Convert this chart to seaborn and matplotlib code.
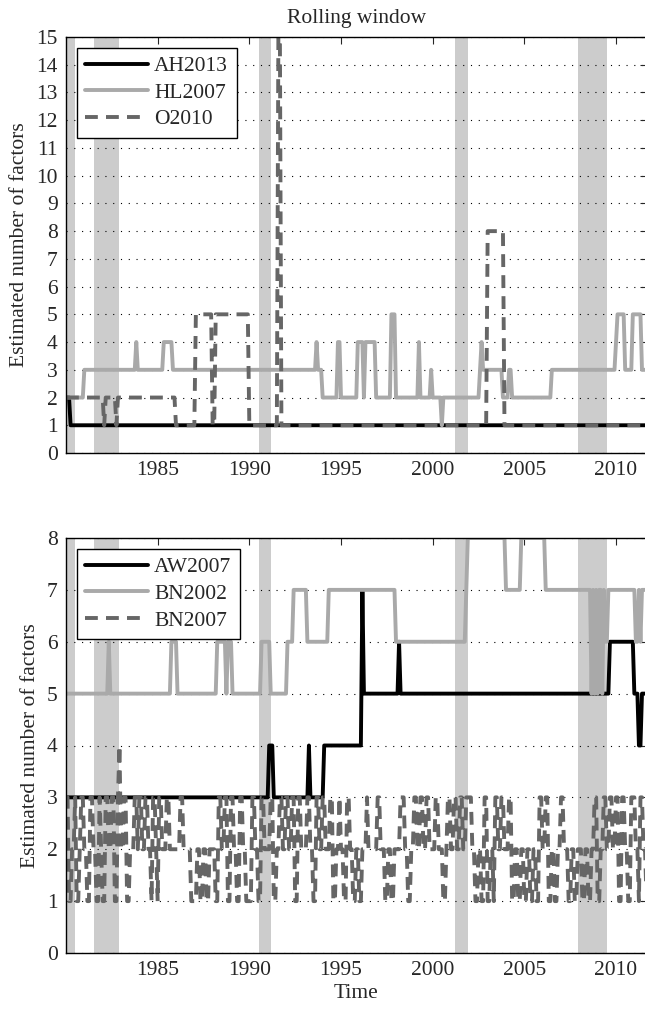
import matplotlib

matplotlib.use("Agg")
import matplotlib.pyplot as plt
import numpy as np
import pandas as pd
import seaborn as sns

START = 1980.0
N_MONTHS = 381  # Jan 1980 .. Sep 2011

# NBER recessions (start, end)
RECESSIONS = [(1980.0, 1980.5), (1981.55, 1982.9), (1990.55, 1991.2),
              (2001.2, 2001.9), (2007.92, 2009.5)]

# runs: (year the value starts, value)
AH2013 = [(1980.0, 2), (1980.25, 1)]
HL2007 = [(1980.0, 2), (1981.0, 3), (1983.83, 4), (1983.92, 3), (1985.33, 4),
          (1985.83, 3), (1993.67, 4), (1993.75, 3), (1994.0, 2), (1994.83, 4),
          (1995.0, 2), (1995.92, 4), (1996.25, 2), (1996.33, 4), (1996.92, 2),
          (1997.75, 5), (1998.0, 2), (1999.25, 4), (1999.33, 2), (1999.92, 3),
          (2000.0, 2), (2000.5, 1), (2000.58, 2), (2002.58, 3), (2002.67, 4),
          (2002.75, 3), (2003.83, 2), (2004.17, 3), (2004.33, 2), (2006.5, 3),
          (2010.0, 4), (2010.08, 5), (2010.5, 3), (2010.92, 5), (2011.42, 3)]
O2010 = [(1980.0, 2), (1982.08, 1), (1982.17, 2), (1982.75, 1), (1982.83, 2),
         (1986.0, 1), (1987.08, 5), (1988.0, 1), (1988.17, 5), (1990.0, 1),
         (1991.58, 15), (1991.75, 1), (2003.0, 8), (2003.92, 1)]

AW2007 = [(1980.0, 3), (1991.08, 4), (1991.33, 3), (1993.25, 4), (1993.33, 3),
          (1994.08, 4), (1996.17, 7), (1996.25, 5), (1998.17, 6), (1998.25, 5),
          (2009.67, 6), (2011.0, 5), (2011.25, 4), (2011.42, 5)]
BN2002 = [(1980.0, 5), (1982.33, 6), (1982.42, 5), (1985.75, 6), (1986.08, 5),
          (1988.25, 6), (1988.75, 5), (1988.83, 6), (1989.08, 5), (1990.67, 6),
          (1991.17, 5), (1992.08, 6), (1992.42, 7), (1993.17, 6), (1994.33, 7),
          (1998.0, 6), (2001.83, 7), (2001.92, 8), (2004.0, 7), (2004.83, 8),
          (2006.17, 7), (2008.67, 5), (2008.75, 7), (2008.83, 5), (2008.92, 7),
          (2009.0, 5), (2009.08, 7), (2009.25, 5), (2009.33, 7), (2009.42, 6),
          (2009.58, 7), (2011.08, 6), (2011.25, 7), (2011.33, 6), (2011.42, 7)]
# monthly values, one string per year
BN2007 = ["331122311233", "221133221132", "113322331134", "223311222332",
          "332233221332", "133222332222", "222332222211", "112211221122",
          "221133223311", "332211332211", "113322113322", "223311223322",
          "332233113322", "223322113322", "332223311223", "221133221122",
          "112223222222", "332221122112", "222333221122", "332233223322",
          "223322211233", "223322332233", "332211221133", "112213322332",
          "223311221122", "112211221133", "223311221122", "332221122112",
          "221122112233", "112233223322", "331133221133", "322133221"]

BLACK = "black"
LIGHT = "#a9a9a9"
DARK = "#666666"
BAND = "#cccccc"
DASH = (0, (3.3, 2.1))
FS = 15.5


def expand(runs):
    starts = np.array([round((y - START) * 12) for y, _ in runs])
    vals = np.array([v for _, v in runs], dtype=float)
    pos = np.searchsorted(starts, np.arange(N_MONTHS), side="right") - 1
    return vals[pos]


def style_axes(ax, ymax):
    for a, b in RECESSIONS:
        ax.axvspan(a, b, color=BAND, lw=0, zorder=0.2)
    ax.set_xlim(1980.0, 2011.69)
    ax.set_ylim(0, ymax)
    ax.set_xticks(range(1985, 2011, 5))
    ax.set_yticks(range(0, ymax + 1))
    ax.set_axisbelow(True)
    ax.yaxis.grid(True, linestyle=(0, (1, 6)), color="black", linewidth=0.8)
    ax.xaxis.grid(False)
    ax.tick_params(direction="in", top=True, right=True, length=5,
                   width=0.8, labelsize=FS, pad=6)
    for s in ax.spines.values():
        s.set_linewidth(1.0)
        s.set_color("black")
    ax.set_ylabel("Estimated number of factors", fontsize=FS, labelpad=5)
    ax.set_xlabel("")
    leg = ax.legend(loc="upper left", fancybox=False, edgecolor="black",
                    framealpha=1, fontsize=FS, handlelength=2.9,
                    handletextpad=0.3, borderpad=0.4, borderaxespad=0.5,
                    labelspacing=0.3)
    leg.get_frame().set_linewidth(1.0)


def main():
    sns.set_style("white")
    plt.rcParams["font.family"] = ["Liberation Serif", "DejaVu Serif"]

    t = START + np.arange(N_MONTHS) / 12
    bn2007 = np.array([int(c) for c in "".join(BN2007)], dtype=float)[:N_MONTHS]

    top = pd.DataFrame({"t": t, "AH2013": expand(AH2013),
                        "HL2007": expand(HL2007), "O2010": expand(O2010)})
    bot = pd.DataFrame({"t": t, "AW2007": expand(AW2007),
                        "BN2002": expand(BN2002), "BN2007": bn2007})

    fig = plt.figure(figsize=(6.45, 10.09), dpi=100)
    w = 581 / 645
    ax1 = fig.add_axes([66 / 645, 1 - 453 / 1009, w, 416 / 1009])
    ax2 = fig.add_axes([66 / 645, 1 - 953 / 1009, w, 415 / 1009])

    lw = 2.8
    sns.lineplot(data=top, x="t", y="AH2013", ax=ax1, color=BLACK, lw=lw,
                 label="AH2013", estimator=None)
    sns.lineplot(data=top, x="t", y="HL2007", ax=ax1, color=LIGHT, lw=lw,
                 label="HL2007", estimator=None)
    sns.lineplot(data=top, x="t", y="O2010", ax=ax1, color=DARK, lw=lw,
                 linestyle=DASH, label="O2010", estimator=None)
    style_axes(ax1, 15)
    ax1.set_title("Rolling window", fontsize=FS, pad=10)

    sns.lineplot(data=bot, x="t", y="AW2007", ax=ax2, color=BLACK, lw=lw,
                 label="AW2007", estimator=None)
    sns.lineplot(data=bot, x="t", y="BN2002", ax=ax2, color=LIGHT, lw=lw,
                 label="BN2002", estimator=None)
    sns.lineplot(data=bot, x="t", y="BN2007", ax=ax2, color=DARK, lw=lw,
                 linestyle=DASH, label="BN2007", estimator=None)
    style_axes(ax2, 8)
    ax2.set_xlabel("Time", fontsize=FS, labelpad=3)

    fig.savefig("out.png", dpi=100)


if __name__ == "__main__":
    main()
